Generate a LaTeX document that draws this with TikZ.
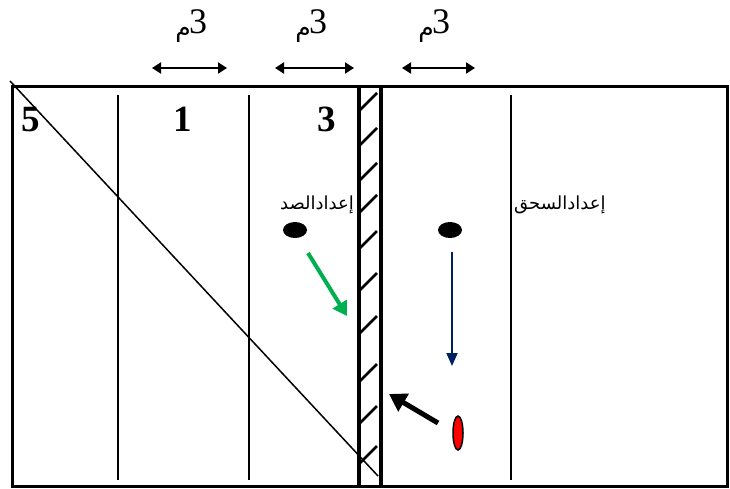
\documentclass[tikz,border=0pt]{standalone}
\usepackage{fontspec}
\setmainfont{Liberation Serif}
\newfontfamily\arabicfont[Script=Arabic]{DejaVu Sans}
\TeXXeTstate=1
\usetikzlibrary{arrows.meta}
\definecolor{arrgreen}{RGB}{0,176,80}
\definecolor{arrnavy}{RGB}{0,32,96}
\definecolor{ballred}{RGB}{255,0,0}
\begin{document}
\begin{tikzpicture}[x=1pt,y=1pt,
  frame/.style={line width=3pt},
  netline/.style={line width=4pt},
  thinline/.style={line width=1.5pt},
  hatch/.style={line width=2.6pt},
  dimarrow/.style={line width=2pt,{Triangle[length=9pt,width=11pt]}-{Triangle[length=9pt,width=11pt]}},
  numlabel/.style={font=\fontsize{37}{37}\selectfont\bfseries,inner sep=0pt},
  meter/.style={inner sep=0pt},
  arlabel/.style={font=\arabicfont\fontsize{18}{20}\selectfont,inner sep=0pt},
]
\useasboundingbox (0,0) rectangle (730,-488);
% outer court
\draw[frame] (12,-86) rectangle (727,-486);
% thin lines
\foreach \x in {118,249,511} \draw[thinline] (\x,-95) -- (\x,-480);
% diagonal
\coordinate (d1) at (10,-81);
\coordinate (d2) at (378,-476);
\draw[thinline] (d1) -- (d2);
% net
\draw[netline] (359,-86) -- (359,-488);
\draw[netline] (381,-86) -- (381,-488);
\foreach \y in {111,146,181,213,249,291,334,382,424,464}
  \draw[hatch] (359,-\y) -- (377,-\y+18);
% dimension arrows
\coordinate (a1l) at (152,-68); \coordinate (a1r) at (227,-68);
\coordinate (a2l) at (275,-68); \coordinate (a2r) at (354,-68);
\coordinate (a3l) at (402,-68); \coordinate (a3r) at (475,-68);
\draw[dimarrow] (a1l) -- (a1r);
\draw[dimarrow] (a2l) -- (a2r);
\draw[dimarrow] (a3l) -- (a3r);
% meter labels
\foreach \i/\x in {m1/200,m2/320,m3/443}{
  \node[meter,anchor=base west] (\i n) at (\x-11,-33) {\fontsize{36}{36}\selectfont 3};
  \node[meter,anchor=base east] (\i a) at (\x-9,-36) {\arabicfont\fontsize{25}{25}\selectfont\beginR م\endR};
}
% zone numbers
\node[numlabel,anchor=base] (n5) at (31,-131) {5};
\node[numlabel,anchor=base] (n1) at (183,-131) {1};
\node[numlabel,anchor=base] (n3) at (327,-131) {3};
% arabic labels
\node[arlabel,anchor=east] (blk) at (354,-205) {\beginR إعدادالصد\endR};
\node[arlabel,anchor=west] (atk) at (514,-205) {\beginR إعدادالسحق\endR};
% players
\fill (295,-230) ellipse [x radius=12, y radius=8];
\fill (450,-230) ellipse [x radius=12, y radius=8];
\draw[line width=1.5pt,fill=ballred] (458,-433) ellipse [x radius=5, y radius=17];
% movement arrows
\coordinate (g1) at (308,-253); \coordinate (g2) at (347,-316);
\draw[arrgreen,line width=4pt,-{Triangle[length=14pt,width=16pt]}] (g1) -- (g2);
\coordinate (b1) at (452,-252); \coordinate (b2) at (452,-366);
\draw[arrnavy,line width=2pt,-{Triangle[length=13pt,width=11pt]}] (b1) -- (b2);
\coordinate (k1) at (438,-423); \coordinate (k2) at (389,-394);
\draw[line width=5pt,-{Triangle[length=17pt,width=20pt]}] (k1) -- (k2);
\end{tikzpicture}
\end{document}
